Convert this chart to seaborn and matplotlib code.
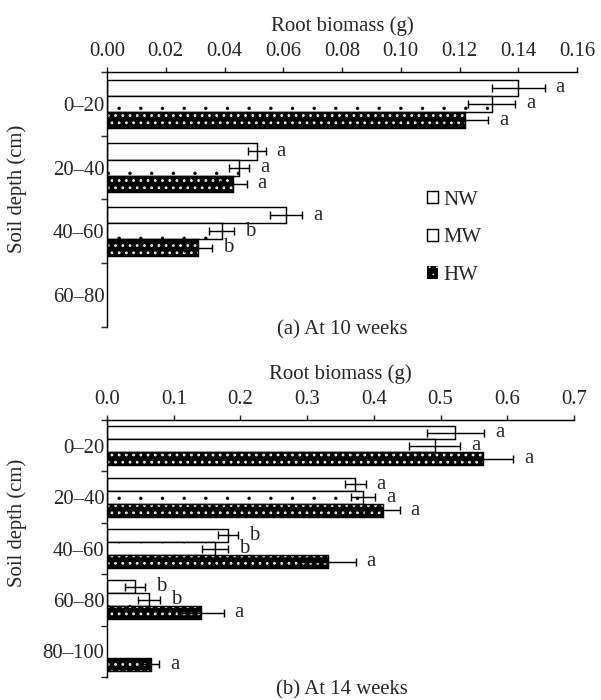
import numpy as np
import pandas as pd
import seaborn as sns
import matplotlib.pyplot as plt
import matplotlib.hatch as mhatch
from matplotlib.container import BarContainer
from matplotlib.patches import Rectangle
from matplotlib.ticker import FixedLocator, FormatStrFormatter

treatments = ['NW', 'MW', 'HW']

# (a) At 10 weeks
depth_a = ['0–20', '20–40', '40–60', '60–80']
nw_a = [0.140, 0.051, 0.061]
mw_a = [0.131, 0.045, 0.039]
hw_a = [0.122, 0.043, 0.031]
nw_a_err = [0.009, 0.003, 0.0054]
mw_a_err = [0.008, 0.0035, 0.0042]
hw_a_err = [0.0078, 0.0045, 0.0047]
nw_a_sig = ['a', 'a', 'a']
mw_a_sig = ['a', 'a', 'b']
hw_a_sig = ['a', 'a', 'b']

# (b) At 14 weeks
depth_b = ['0–20', '20–40', '40–60', '60–80', '80–100']
nw_b = [0.522, 0.372, 0.182, 0.042]
mw_b = [0.491, 0.384, 0.162, 0.063]
hw_b = [0.564, 0.413, 0.332, 0.141, 0.066]
nw_b_err = [0.043, 0.016, 0.015, 0.015]
mw_b_err = [0.038, 0.018, 0.019, 0.017]
hw_b_err = [0.045, 0.026, 0.041, 0.034, 0.012]
nw_b_sig = ['a', 'a', 'b', 'b']
mw_b_sig = ['a', 'a', 'b', 'b']
hw_b_sig = ['a', 'a', 'a', 'a', 'a']


def long_table(depths, vals, errs, sigs):
    rows = []
    for trt, v, e, s in zip(treatments, vals, errs, sigs):
        for d, vi, ei, si in zip(depths, v, e, s):
            rows.append({'depth': d, 'trt': trt, 'biomass': vi, 'err': ei, 'sig': si})
    return pd.DataFrame(rows)


df_a = long_table(depth_a, [nw_a, mw_a, hw_a], [nw_a_err, mw_a_err, hw_a_err],
                  [nw_a_sig, mw_a_sig, hw_a_sig])
df_b = long_table(depth_b, [nw_b, mw_b, hw_b], [nw_b_err, mw_b_err, hw_b_err],
                  [nw_b_sig, mw_b_sig, hw_b_sig])

sns.set_style('white')
plt.rcParams['font.family'] = ['Liberation Serif', 'DejaVu Serif']
plt.rcParams['font.size'] = 11.5
plt.rcParams['hatch.linewidth'] = 0.45
# smaller dots than the default '.' hatch
mhatch.SmallFilledCircles.size = 0.065

FS = 11.5
DPI = 130
fig = plt.figure(figsize=(601 / DPI, 700 / DPI), dpi=DPI)
ax_a = fig.add_axes([107 / 601, 1 - 327 / 700, 470 / 601, 255 / 700])
ax_b = fig.add_axes([107 / 601, 1 - 677 / 700, 467 / 601, 257 / 700])


def set_hatch_lw(p, lw):
    if hasattr(p, 'set_hatch_linewidth'):
        p.set_hatch_linewidth(lw)


def draw_panel(ax, df, depths, xmax, xstep, fmt, ylab_x, ylab_y):
    sns.barplot(data=df, x='biomass', y='depth', hue='trt', order=depths,
                hue_order=treatments, orient='h', width=0.76, errorbar=None,
                legend=False, ax=ax)
    bars = [c for c in ax.containers if isinstance(c, BarContainer)]
    for trt, cont in zip(treatments, bars):
        sub = df[df['trt'] == trt]
        for p, (_, r) in zip(cont.patches, sub.iterrows()):
            if trt == 'HW':
                p.set_facecolor('black')
                p.set_edgecolor('white')
                p.set_hatch('...')
                set_hatch_lw(p, 1.0)
                p.set_linewidth(0)
                ax.add_patch(Rectangle(p.get_xy(), p.get_width(), p.get_height(),
                                       fill=False, ec='black', lw=0.8, zorder=p.get_zorder() + 0.1))
            else:
                p.set_facecolor('white')
                p.set_edgecolor('black')
                p.set_linewidth(0.8)
                if trt == 'MW':
                    p.set_hatch('.')
                    set_hatch_lw(p, 0.3)
            yc = p.get_y() + p.get_height() / 2
            ax.errorbar(r['biomass'], yc, xerr=r['err'], fmt='none', ecolor='black',
                        elinewidth=0.8, capsize=2, capthick=0.8, zorder=5)
            ax.annotate(r['sig'], (r['biomass'] + r['err'], yc), xytext=(6, 0),
                        textcoords='offset points', va='center', ha='left', fontsize=FS)

    ax.set_xlim(0, xmax)
    ax.set_xticks(np.arange(0, xmax + 1e-9, xstep))
    ax.xaxis.set_major_formatter(FormatStrFormatter(fmt))
    ax.xaxis.tick_top()
    ax.xaxis.set_label_position('top')
    ax.set_xlabel('Root biomass (g)', labelpad=6, fontsize=FS)
    ax.tick_params(axis='x', direction='out', length=3, width=0.8, pad=3, labelsize=FS)

    ax.set_ylim(len(depths) - 0.5, -0.5)
    ax.yaxis.set_minor_locator(FixedLocator(np.arange(-0.5, len(depths), 1)))
    ax.tick_params(axis='y', which='major', length=0, pad=1.5, labelsize=FS)
    ax.tick_params(axis='y', which='minor', left=True, direction='out', length=3.5, width=0.8)
    ax.set_ylabel('Soil depth (cm)', fontsize=FS)
    ax.yaxis.set_label_coords(ylab_x, ylab_y)

    for side in ['right', 'bottom']:
        ax.spines[side].set_visible(False)
    for side in ['top', 'left']:
        ax.spines[side].set_linewidth(0.8)
        ax.spines[side].set_color('black')
    return bars


bars_a = draw_panel(ax_a, df_a, depth_a, 0.16, 0.02, '%.2f', -0.17, 0.54)
draw_panel(ax_b, df_b, depth_b, 0.7, 0.1, '%.1f', -0.171, 0.60)

handles = [c.patches[0] for c in bars_a]
ax_a.legend(handles, treatments, loc='center left', bbox_to_anchor=(0.68, 0.35),
            frameon=False, handlelength=0.55, handleheight=0.55, handletextpad=0.25,
            labelspacing=0.9, borderpad=0, borderaxespad=0, fontsize=FS)

fig.text(342 / 601, 1 - 330 / 700, '(a) At 10 weeks', ha='center', va='center', fontsize=FS)
fig.text(342 / 601, 1 - 690 / 700, '(b) At 14 weeks', ha='center', va='center', fontsize=FS)

fig.savefig('out.png', dpi=DPI)
